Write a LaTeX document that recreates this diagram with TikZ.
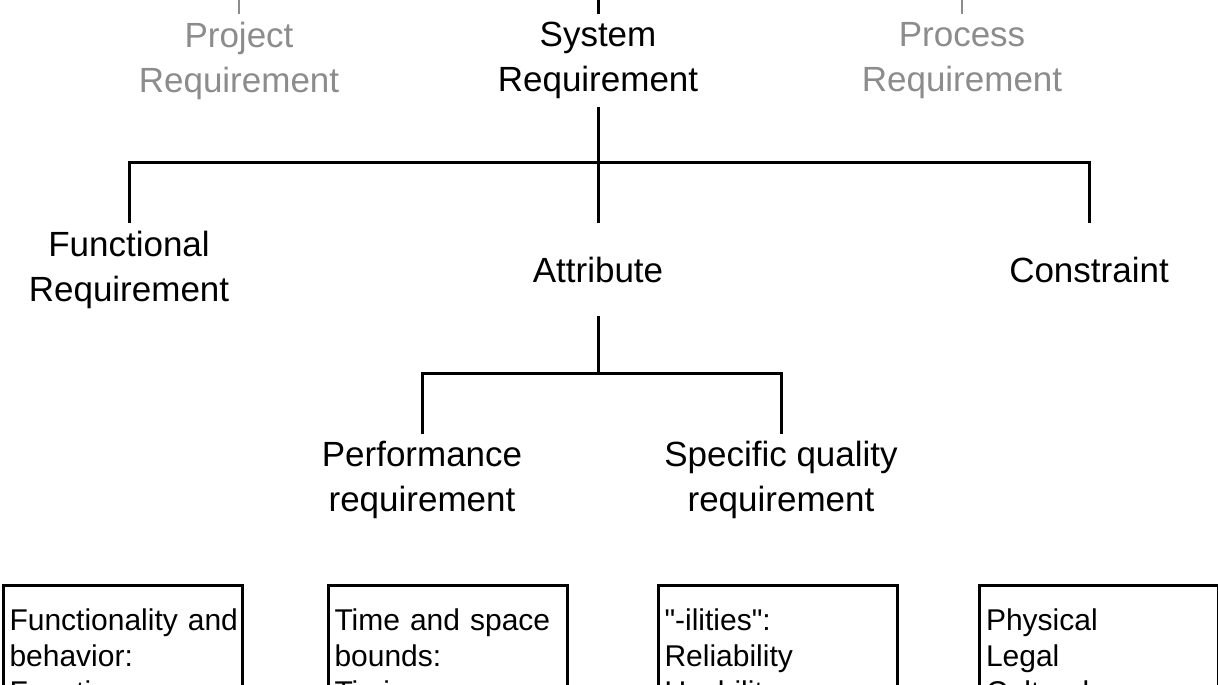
\documentclass[tikz,border=0pt]{standalone}
\usepackage{fontspec}
\setmainfont{Liberation Sans}
\usepackage{tikz}
\usetikzlibrary{positioning}
\definecolor{greytext}{HTML}{8C8C8C}

\begin{document}
\begin{tikzpicture}[x=1pt,y=-1pt,
   label/.style={align=center,inner sep=0pt,minimum width=240pt,minimum height=92pt,font=\fontsize{35}{45}\selectfont},
   faded/.style={label,text=greytext},
   infobox/.style={draw,line width=3pt,anchor=north west,align=left,text width=226pt,inner xsep=6.5pt,inner ysep=23pt,font=\fontsize{30}{36}\selectfont},
   link/.style={line width=3pt},
   fadelink/.style={line width=2pt,draw=greytext}]
   \useasboundingbox (0,0) rectangle (1218,685);
   \clip (0,0) rectangle (1218,685);
   % top row
   \node[faded] (n_proj) at (239,60.5) {Project\\Requirement};
   \node[label] (n_sys)  at (598,60.5) {System\\Requirement};
   \node[faded] (n_proc) at (962,60.5) {Process\\Requirement};
   \coordinate (t_proj) at (239,-10);
   \coordinate (t_sys)  at (598,-10);
   \coordinate (t_proc) at (962,-10);
   % second row
   \node[label] (n_func) at (129,269.5)  {Functional\\Requirement};
   \node[label] (n_attr) at (598,269.5)  {Attribute};
   \node[label] (n_cons) at (1089,269.5) {Constraint};
   % third row
   \node[label] (n_perf) at (422,480) {Performance\\requirement};
   \node[label] (n_qual) at (781,480) {Specific quality\\requirement};
   % boxes
   \node[infobox] (b_func) at (1.5,584)   {Functionality~and\\behavior:\\Functions};
   \node[infobox] (b_perf) at (326.5,584) {Time and space\\bounds:\\Timing};
   \node[infobox] (b_qual) at (656.5,584) {\textquotedbl-ilities\textquotedbl:\\Reliability\\Usability};
   \node[infobox] (b_cons) at (978,584)   {Physical\\Legal\\Cultural};
   % bars
   \coordinate (bar_sys)  at (598,162);
   \coordinate (bar_attr) at (598,373);
   % connectors
   \draw[fadelink] (t_proj) -- (n_proj);
   \draw[fadelink] (t_proc) -- (n_proc);
   \draw[link] (t_sys) -- (n_sys);
   \draw[link] (n_sys) -- (bar_sys) -| (n_func);
   \draw[link] (bar_sys) -- (n_attr);
   \draw[link] (bar_sys) -| (n_cons);
   \draw[link] (n_attr) -- (bar_attr) -| (n_perf);
   \draw[link] (bar_attr) -| (n_qual);
\end{tikzpicture}
\end{document}
